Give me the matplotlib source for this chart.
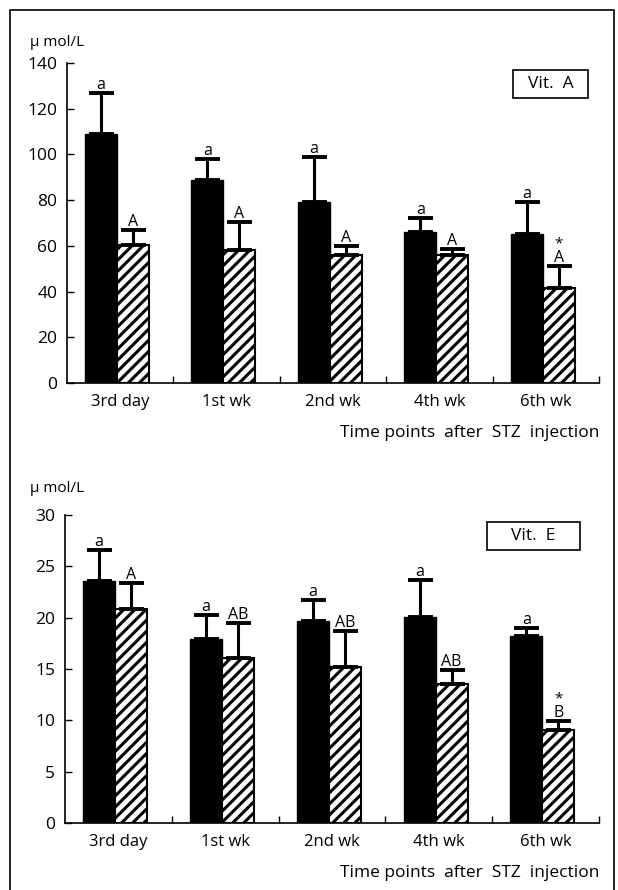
import numpy as np
import matplotlib
matplotlib.use('Agg')
from matplotlib import pyplot as plt
from matplotlib.patches import Rectangle

plt.rcParams['font.family'] = ['Open Sans', 'DejaVu Sans']
plt.rcParams['hatch.linewidth'] = 2.2

cats = ['3rd day', '1st wk', '2nd wk', '4th wk', '6th wk']

# Vit. A (umol/L)
vitA_ctrl = [109, 89, 79, 66, 65]
vitA_ctrl_err = [18, 9, 20, 6, 14]
vitA_stz = [60.5, 58, 56, 56, 41.5]
vitA_stz_err = [6.5, 12.5, 4, 2.5, 9.5]
vitA_ctrl_lbl = ['a', 'a', 'a', 'a', 'a']
vitA_stz_lbl = ['A', 'A', 'A', 'A', 'A']
vitA_star = ['', '', '', '', '*']

# Vit. E (umol/L)
vitE_ctrl = [23.6, 17.9, 19.7, 20.1, 18.2]
vitE_ctrl_err = [3.0, 2.4, 2.0, 3.6, 0.8]
vitE_stz = [20.8, 16.1, 15.2, 13.5, 9.1]
vitE_stz_err = [2.6, 3.4, 3.5, 1.45, 0.8]
vitE_ctrl_lbl = ['a', 'a', 'a', 'a', 'a']
vitE_stz_lbl = ['A', 'AB', 'AB', 'AB', 'B']
vitE_star = ['', '', '', '', '*']

W = 618
H = 890


def drawPanel(ax, ctrl, ctrlErr, stz, stzErr, ctrlLbl, stzLbl, star, ymax, ystep, name, boxPos):
    x = np.arange(len(cats)) + 0.47
    w = 0.3
    xc = x - w / 2
    xs = x + w / 2
    ax.bar(xc, ctrl, w, color='black', edgecolor='black', linewidth=1, zorder=2)
    ax.bar(xs, stz, w, color='white', edgecolor='black', hatch='///', linewidth=1.5, zorder=2)
    ax.errorbar(xc, ctrl, yerr=[np.zeros(len(ctrl)), ctrlErr], fmt='none', ecolor='black',
                elinewidth=2.2, capsize=9, capthick=2.8, zorder=3)
    ax.errorbar(xs, stz, yerr=[np.zeros(len(stz)), stzErr], fmt='none', ecolor='black',
                elinewidth=2.2, capsize=9, capthick=2.8, zorder=3)
    for i in range(len(cats)):
        ax.annotate(ctrlLbl[i], (xc[i], ctrl[i] + ctrlErr[i]), xytext=(0, 0),
                    textcoords='offset points', ha='center', va='bottom', fontsize=11.5)
        ax.annotate(stzLbl[i], (xs[i], stz[i] + stzErr[i]), xytext=(0, 0),
                    textcoords='offset points', ha='center', va='bottom', fontsize=11.5)
        if star[i]:
            ax.annotate(star[i], (xs[i], stz[i] + stzErr[i]), xytext=(0, 11),
                        textcoords='offset points', ha='center', va='bottom', fontsize=11)

    ax.set_xlim(0, len(cats))
    ax.set_ylim(0, ymax)
    ax.set_yticks(np.arange(0, ymax + 1, ystep))
    ax.set_xticks(np.arange(len(cats)) + 0.5)
    ax.set_xticklabels(cats, fontsize=12)
    ax.set_xticks(np.arange(1, len(cats) + 1), minor=True)
    ax.tick_params(axis='x', which='major', length=0, pad=8)
    ax.tick_params(axis='x', which='minor', direction='in', length=5, width=1)
    ax.tick_params(axis='y', direction='in', length=5, width=1, labelsize=12.5, pad=7)
    for s in ['top', 'right']:
        ax.spines[s].set_visible(False)
    ax.spines['left'].set_linewidth(1.2)
    ax.spines['bottom'].set_linewidth(1.2)
    ax.set_xlabel('Time points  after  STZ  injection', loc='right', fontsize=12.5, labelpad=11)
    ax.text(boxPos[0], boxPos[1], name, transform=ax.transAxes, ha='center', va='center',
            fontsize=12.5, bbox=dict(boxstyle='square,pad=0.35', fc='white', ec='black', lw=1.2))


fig = plt.figure(figsize=(W / 100, H / 100), dpi=100)

ax1 = fig.add_axes([67 / W, 1 - 383 / H, 532 / W, 320 / H])
drawPanel(ax1, vitA_ctrl, vitA_ctrl_err, vitA_stz, vitA_stz_err,
          vitA_ctrl_lbl, vitA_stz_lbl, vitA_star, 140, 20, '  Vit.  A  ', (0.909, 0.934))

ax2 = fig.add_axes([65 / W, 1 - 823 / H, 534 / W, 308 / H])
drawPanel(ax2, vitE_ctrl, vitE_ctrl_err, vitE_stz, vitE_stz_err,
          vitE_ctrl_lbl, vitE_stz_lbl, vitE_star, 30, 5, '    Vit.  E    ', (0.877, 0.932))

fig.text(30 / W, 1 - 42 / H, 'μ mol/L', fontsize=11, va='center')
fig.text(30 / W, 1 - 488 / H, 'μ mol/L', fontsize=11, va='center')

# outer frame
fig.add_artist(Rectangle((10 / W, -0.05), 604 / W, 1.05 - 10 / H, transform=fig.transFigure,
                         fill=False, ec='black', lw=1.2))

fig.savefig('out.png', dpi=100)
